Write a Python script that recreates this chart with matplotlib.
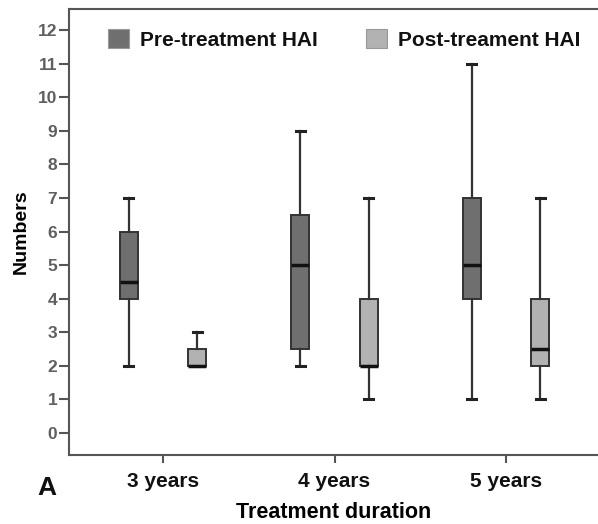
import matplotlib.pyplot as plt
from matplotlib.patches import Patch

plt.rcParams['font.family'] = ['Liberation Sans', 'DejaVu Sans']

durations = ['3 years', '4 years', '5 years']

# pre-treatment HAI box stats
pre_low = [2, 2, 1]
pre_q1 = [4, 2.5, 4]
pre_med = [4.5, 5, 5]
pre_q3 = [6, 6.5, 7]
pre_high = [7, 9, 11]

# post-treatment HAI box stats
post_low = [2, 1, 1]
post_q1 = [2, 2, 2]
post_med = [2, 2, 2.5]
post_q3 = [2.5, 4, 4]
post_high = [3, 7, 7]

series = [
    ('Pre-treatment HAI', '#6f6f6f', -0.2, pre_low, pre_q1, pre_med, pre_q3, pre_high),
    ('Post-treament HAI', '#b2b2b2', 0.2, post_low, post_q1, post_med, post_q3, post_high),
]

fig = plt.figure(figsize=(5.98, 5.24), dpi=100)
ax = fig.add_axes([0.1154, 0.1317, 0.8846, 0.8511])

handles = []
for name, color, off, lo, q1, med, q3, hi in series:
    stats = [dict(whislo=lo[i], q1=q1[i], med=med[i], q3=q3[i], whishi=hi[i], fliers=[])
             for i in range(len(durations))]
    pos = [i + off for i in range(len(durations))]
    ax.bxp(stats, positions=pos, widths=0.105, patch_artist=True, showfliers=False,
           boxprops=dict(facecolor=color, edgecolor='#333333', linewidth=1.4),
           medianprops=dict(color='#111111', linewidth=2.5),
           whiskerprops=dict(color='#333333', linewidth=1.6),
           capprops=dict(color='#222222', linewidth=2.2),
           capwidths=0.053)
    handles.append(Patch(facecolor=color, edgecolor='#999999', linewidth=0.8, label=name))

ax.set_xlim(-0.548, 2.536)
ax.set_ylim(-0.655, 12.63)
ax.set_yticks(range(0, 13))
ax.set_xticks(range(len(durations)))
ax.set_xticklabels(durations, fontsize=15, fontweight='bold', color='#111111')
for lab in ax.get_yticklabels():
    lab.set_fontsize(12.5)
    lab.set_fontweight('bold')
    lab.set_color('#5f5f5f')
ax.tick_params(axis='y', length=7, width=1.5, color='#555555', pad=1.5)
ax.tick_params(axis='x', length=6, width=1.5, color='#555555', pad=6)

ax.spines['right'].set_visible(False)
for s in ['top', 'left', 'bottom']:
    ax.spines[s].set_color('#555555')
    ax.spines[s].set_linewidth(1.5)

ax.set_xlabel('Treatment duration', fontsize=15.5, fontweight='bold', labelpad=8)
ax.set_ylabel('Numbers', fontsize=14, fontweight='bold', labelpad=6)

leg = ax.legend(handles=handles, loc='upper left', bbox_to_anchor=(0.074, 0.955), ncol=2,
                frameon=False, prop=dict(size=15, weight='bold'), borderpad=0, borderaxespad=0,
                handlelength=1.0, handleheight=1.0, handletextpad=0.55, columnspacing=2.3)
for t in leg.get_texts():
    t.set_color('#111111')

fig.text(0.062, 0.055, 'A', fontsize=19, fontweight='bold', color='#111111')

fig.savefig('out.png', dpi=100)
